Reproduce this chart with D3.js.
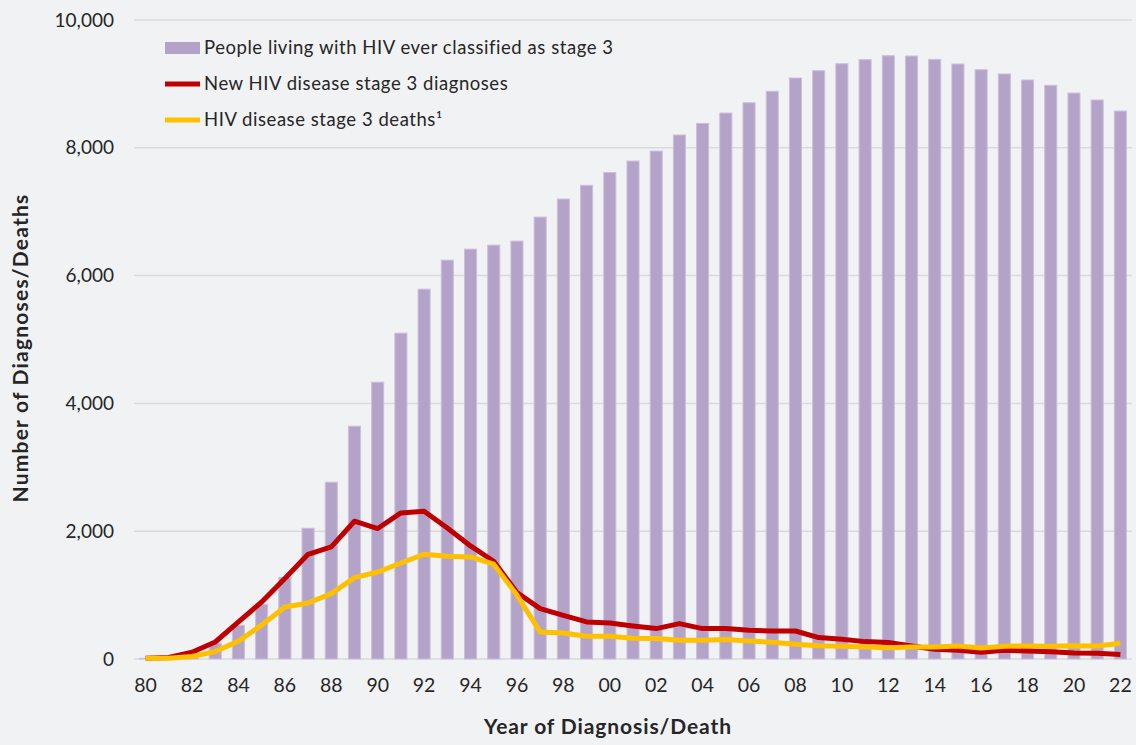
<!DOCTYPE html>
<html>
<head>
<meta charset="utf-8">
<script src="https://cdn.jsdelivr.net/npm/d3@7"></script>
<style>
  html, body { margin: 0; padding: 0; background: #f1f2f4; }
  svg { display: block; font-family: Lato, "Open Sans", sans-serif; }
</style>
</head>
<body>
<div id="chart"></div>
<script>
// year labels (two digits) 1980-2022
var years = ["80","81","82","83","84","85","86","87","88","89",
             "90","91","92","93","94","95","96","97","98","99",
             "00","01","02","03","04","05","06","07","08","09",
             "10","11","12","13","14","15","16","17","18","19",
             "20","21","22"];

// people living with HIV ever classified as stage 3 (bars)
var living = [10,40,110,246,528,856,1279,2046,2767,3643,
              4332,5099,5788,6242,6414,6477,6540,6916,7198,7413,
              7613,7793,7949,8200,8381,8544,8705,8884,9092,9206,
              9316,9379,9441,9436,9384,9311,9222,9155,9061,8978,
              8857,8748,8575];

// new HIV disease stage 3 diagnoses
var newDiag = [10,25,105,266,580,892,1259,1639,1754,2156,
               2042,2286,2313,2051,1769,1530,1040,789,684,580,
               564,517,476,554,476,476,449,440,438,335,
               308,272,257,204,152,136,105,136,125,115,
               94,89,69];

// HIV disease stage 3 deaths
var deaths = [10,10,40,116,280,530,814,877,1024,1274,
              1362,1503,1639,1608,1597,1483,1000,423,407,355,
              355,324,319,293,293,304,282,261,230,209,
              199,188,178,188,188,204,172,199,204,199,
              209,204,246];

var yTicks = [0, 2000, 4000, 6000, 8000, 10000];
var xTickLabels = years.filter(function (d, i) { return i % 2 === 0; });

var legendItems = [
  { label: "People living with HIV ever classified as stage 3", type: "bar", color: "#b3a3c9" },
  { label: "New HIV disease stage 3 diagnoses", type: "line", color: "#c00000" },
  { label: "HIV disease stage 3 deaths\u00b9", type: "line", color: "#ffc000" }
];

var W = 1136, H = 745;
var plot = { left: 134, right: 1132, top: 20, bottom: 659 };

var svg = d3.select("#chart").append("svg")
  .attr("width", W)
  .attr("height", H);

var x = d3.scaleBand()
  .domain(years)
  .range([plot.left, plot.right])
  .paddingInner(0.48)
  .paddingOuter(0.24);

var y = d3.scaleLinear()
  .domain([0, 10000])
  .range([plot.bottom, plot.top]);

// gridlines
svg.append("g")
  .selectAll("line")
  .data(yTicks)
  .enter().append("line")
  .attr("x1", plot.left)
  .attr("x2", plot.right)
  .attr("y1", function (d) { return y(d); })
  .attr("y2", function (d) { return y(d); })
  .attr("stroke", "#d9dadc")
  .attr("stroke-width", 1.5);

// y axis labels
var yAxis = svg.append("g")
  .attr("transform", "translate(" + (plot.left - 20) + ",0)")
  .call(d3.axisLeft(y).tickValues(yTicks).tickSize(0).tickPadding(0).tickFormat(d3.format(",")));
yAxis.select(".domain").remove();
yAxis.selectAll("text")
  .attr("font-size", "19px")
  .attr("fill", "#262626")
  .attr("font-family", "Lato, sans-serif");

// x axis labels
var xAxis = svg.append("g")
  .attr("transform", "translate(0," + (plot.bottom + 19) + ")")
  .call(d3.axisBottom(x).tickValues(xTickLabels).tickSize(0).tickPadding(0));
xAxis.select(".domain").remove();
xAxis.selectAll("text")
  .attr("font-size", "19.5px")
  .attr("fill", "#262626")
  .attr("font-family", "Lato, sans-serif");

// bars
svg.append("g")
  .selectAll("rect")
  .data(living)
  .enter().append("rect")
  .attr("x", function (d, i) { return x(years[i]); })
  .attr("y", function (d) { return y(d); })
  .attr("width", x.bandwidth())
  .attr("height", function (d) { return y(0) - y(d); })
  .attr("fill", "#b3a3c9")
  .attr("stroke", "#cbbfdb")
  .attr("stroke-width", 1);

var line = d3.line()
  .x(function (d, i) { return x(years[i]) + x.bandwidth() / 2; })
  .y(function (d) { return y(d); });

svg.append("path")
  .datum(newDiag)
  .attr("d", line)
  .attr("fill", "none")
  .attr("stroke", "#c00000")
  .attr("stroke-width", 5)
  .attr("stroke-linejoin", "round");

svg.append("path")
  .datum(deaths)
  .attr("d", line)
  .attr("fill", "none")
  .attr("stroke", "#ffc000")
  .attr("stroke-width", 5)
  .attr("stroke-linejoin", "round");

// legend
var legend = svg.append("g").attr("transform", "translate(165,48)");
var rows = legend.selectAll("g")
  .data(legendItems)
  .enter().append("g")
  .attr("transform", function (d, i) { return "translate(0," + (i * 36) + ")"; });

rows.each(function (d) {
  var g = d3.select(this);
  if (d.type === "bar") {
    g.append("rect").attr("x", 0).attr("y", -6).attr("width", 35).attr("height", 12).attr("fill", d.color);
  } else {
    g.append("line").attr("x1", 0).attr("x2", 35).attr("y1", 0).attr("y2", 0)
      .attr("stroke", d.color).attr("stroke-width", 5);
  }
  g.append("text")
    .attr("x", 39)
    .attr("y", 0)
    .attr("dy", "0.35em")
    .attr("font-size", "18.5px")
    .attr("letter-spacing", "0.55px")
    .attr("fill", "#262626")
    .text(d.label);
});

// axis titles
svg.append("text")
  .attr("x", 608)
  .attr("y", 727)
  .attr("dy", "0.35em")
  .attr("text-anchor", "middle")
  .attr("font-size", "21px")
  .attr("font-weight", "bold")
  .attr("letter-spacing", "0.9px")
  .attr("fill", "#262626")
  .text("Year of Diagnosis/Death");

svg.append("text")
  .attr("transform", "translate(21,348) rotate(-90)")
  .attr("dy", "0.35em")
  .attr("text-anchor", "middle")
  .attr("font-size", "21px")
  .attr("font-weight", "bold")
  .attr("letter-spacing", "1.2px")
  .attr("fill", "#262626")
  .text("Number of Diagnoses/Deaths");
</script>
</body>
</html>
